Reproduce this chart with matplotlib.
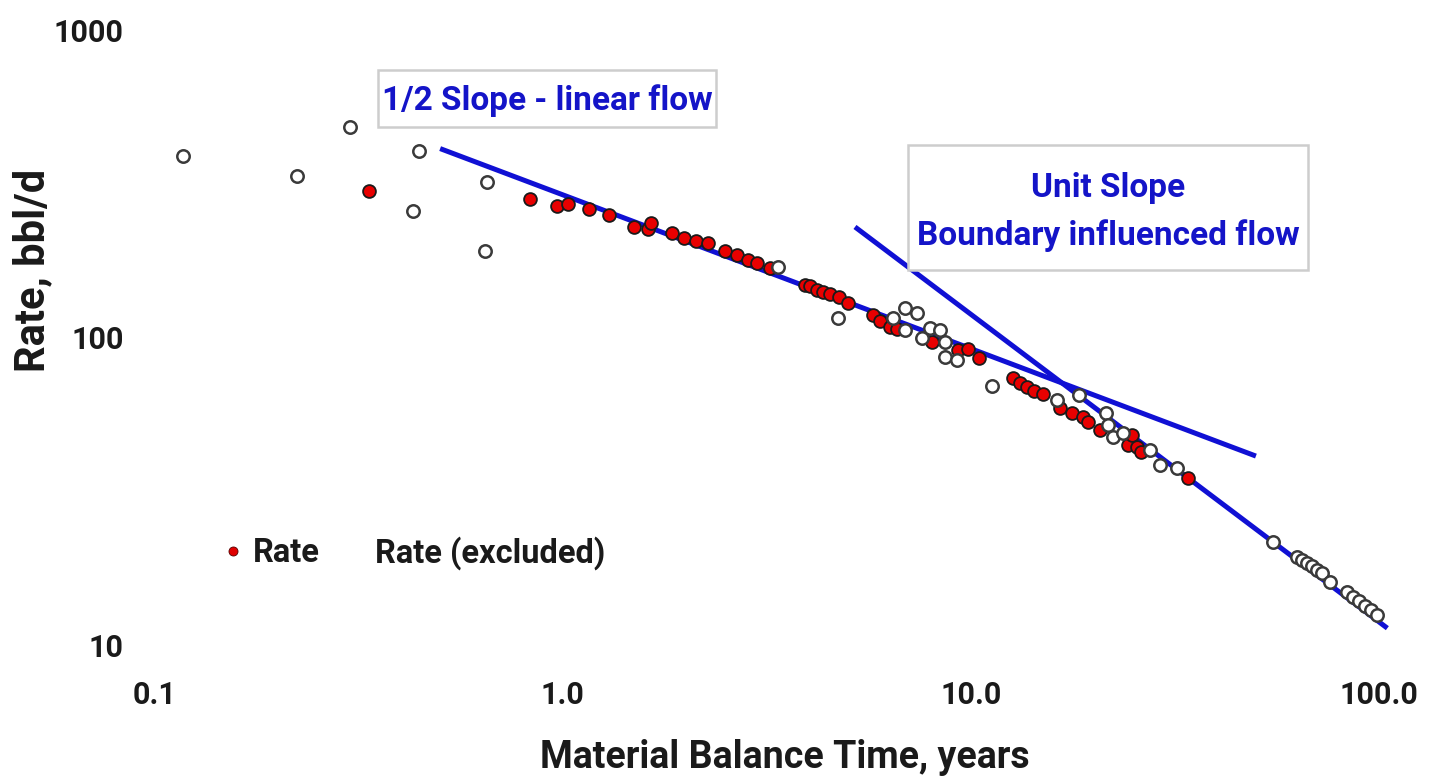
import matplotlib
matplotlib.use("Agg")
import matplotlib.pyplot as plt
from matplotlib.lines import Line2D
from matplotlib.patches import Rectangle

# ---------------- data ----------------
rate_t = [0.335, 0.830, 0.967, 1.03, 1.158, 1.30, 1.49, 1.62, 1.64, 1.85, 1.98, 2.12,
          2.27, 2.49, 2.67, 2.84, 2.99, 3.22, 3.92, 4.03, 4.20, 4.34, 4.51, 4.75, 5.00,
          5.75, 5.98, 6.33, 6.59, 8.02, 9.29, 9.84, 10.5, 12.7, 13.2, 13.7, 14.3, 15.0,
          16.5, 17.7, 18.8, 19.4, 20.7, 24.3, 24.9, 25.5, 26.2, 34.0]
rate_q = [298, 281, 267, 271, 261, 249, 228, 224, 235, 218, 210, 205,
          202, 190, 185, 178, 174, 168, 148, 146, 142, 140, 138, 135, 129,
          118, 113, 108, 106, 96.3, 90.7, 91.4, 85.4, 73.6, 70.9, 68.7, 66.7, 65.3,
          58.7, 56.6, 54.9, 52.9, 49.9, 44.6, 48.0, 43.8, 42.3, 34.8]

excl_t = [0.117, 0.223, 0.301, 0.444, 0.429, 0.651, 0.644, 3.36, 4.72, 6.44, 6.89, 6.89,
          7.38, 7.59, 7.94, 8.40, 8.64, 8.64, 9.25, 11.3, 16.3, 18.4, 21.5, 21.7, 22.3,
          23.6, 27.5, 29.1, 32.0, 55.0, 62.9, 64.8, 66.6, 68.5, 70.5, 72.5, 75.9, 83.5,
          86.3, 89.3, 92.4, 95.6, 98.9]
excl_q = [388, 334, 482, 403, 257, 319, 190, 169, 115, 115, 124, 105,
          120, 99.3, 107, 105, 96.3, 86.1, 84.2, 69.3, 62.4, 64.8, 56.6, 51.7, 47.3,
          48.7, 42.9, 38.4, 37.5, 21.5, 19.3, 18.8, 18.4, 18.0, 17.5, 17.1, 16.0, 14.8,
          14.3, 13.8, 13.3, 12.9, 12.5]

half_slope_t = [0.5, 50]
half_slope_q = [410, 41]
unit_slope_t = [5.2, 105]
unit_slope_q = [228, 11.3]

x_ticks = [0.1, 1.0, 10.0, 100.0]
x_tick_labels = ["0.1", "1.0", "10.0", "100.0"]
y_ticks = [10, 100, 1000]
y_tick_labels = ["10", "100", "1000"]

# ---------------- style ----------------
FONT = ["Roboto", "DejaVu Sans"]
plt.rcParams["font.family"] = FONT
plt.rcParams["font.weight"] = "bold"
DARK = "#1a1a1a"
BLUE_LINE = "#1010d4"
BLUE_TEXT = "#1414c8"

W, H = 1441, 784
fig = plt.figure(figsize=(W / 100, H / 100), dpi=100)
fig.patch.set_facecolor("white")

left_px, right_px = 135, 1411
top_px, bot_px = 16.8, 674.3
ax = fig.add_axes([left_px / W, 1 - bot_px / H, (right_px - left_px) / W, (bot_px - top_px) / H])
ax.set_xscale("log")
ax.set_yscale("log")
ax.set_xlim(0.0893, 120)
ax.set_ylim(8, 1100)

ax.plot(half_slope_t, half_slope_q, color=BLUE_LINE, lw=3.6, solid_capstyle="butt", zorder=2)
ax.plot(unit_slope_t, unit_slope_q, color=BLUE_LINE, lw=3.6, solid_capstyle="butt", zorder=2,
        clip_on=False)

ax.scatter(rate_t, rate_q, s=85, facecolor="#e80000", edgecolor="#1a1a1a", linewidth=1.3, zorder=3)
ax.scatter(excl_t, excl_q, s=80, facecolor="white", edgecolor="#3a3a3a", linewidth=1.8, zorder=4)

for s in ax.spines.values():
    s.set_visible(False)
ax.minorticks_off()
ax.set_xticks(x_ticks)
ax.set_xticklabels(x_tick_labels)
ax.set_yticks(y_ticks)
ax.set_yticklabels(y_tick_labels)
ax.tick_params(axis="both", length=0, labelsize=22, labelcolor=DARK)
ax.tick_params(axis="x", pad=4)
ax.tick_params(axis="y", pad=8)
for lab in ax.get_xticklabels() + ax.get_yticklabels():
    lab.set_fontweight("bold")

ax.set_xlabel("Material Balance Time, years", fontsize=27, fontweight="bold", color=DARK)
ax.xaxis.set_label_coords((785 - left_px) / (right_px - left_px), (bot_px - 758) / (bot_px - top_px))
ax.xaxis.label.set_va("center")
ax.set_ylabel("Rate, bbl/d", fontsize=30, fontweight="bold", color=DARK)
ax.yaxis.set_label_coords((33 - left_px) / (right_px - left_px), (bot_px - 270) / (bot_px - top_px))
ax.yaxis.label.set_va("center")

# annotation boxes (pixel-placed frames)
def frame(x0, y0, x1, y1):
    fig.patches.append(Rectangle((x0 / W, 1 - y1 / H), (x1 - x0) / W, (y1 - y0) / H,
                                 transform=fig.transFigure, facecolor="white",
                                 edgecolor="#cdcdcd", linewidth=1.8, zorder=5))

frame(378, 70, 716, 127)
frame(908, 145, 1308, 270)
fig.text(547 / W, 1 - 101 / H, "1/2 Slope - linear flow", fontsize=24, fontweight="bold",
         color=BLUE_TEXT, ha="center", va="center", zorder=6)
fig.text(1108 / W, 1 - 212 / H, "Unit Slope\nBoundary influenced flow", fontsize=24, fontweight="bold",
         color=BLUE_TEXT, ha="center", va="center", linespacing=1.62, multialignment="center",
         zorder=6)

# legend
handles = [
    Line2D([], [], ls="none", marker="o", markersize=6.5, markerfacecolor="#e00000",
           markeredgecolor="#550000", markeredgewidth=0.6, label="Rate"),
    Line2D([], [], ls="none", marker="o", markersize=6.5, markerfacecolor="white",
           markeredgecolor="white", label="Rate (excluded)"),
]
leg = fig.legend(handles=handles, loc="center left", bbox_to_anchor=(223 / W, 1 - 553 / H),
                 ncol=2, frameon=False, handlelength=0.6, handletextpad=0.3,
                 columnspacing=0.8, borderpad=0, borderaxespad=0,
                 prop={"family": FONT, "weight": "bold", "size": 23.5})
for t in leg.get_texts():
    t.set_color(DARK)

fig.savefig("out.png", dpi=100, facecolor="white")
